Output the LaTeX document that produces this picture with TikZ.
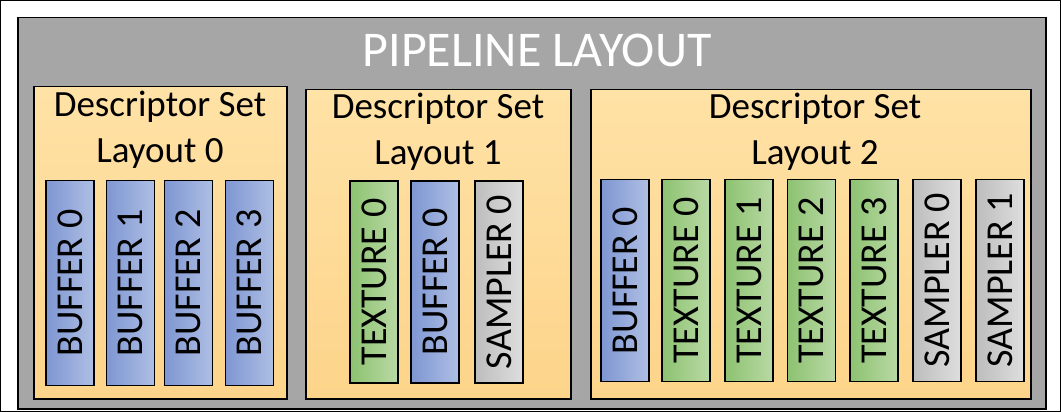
\documentclass[tikz,border=0pt]{standalone}
\usepackage{fontspec}
\setmainfont{Carlito}
\begin{document}
\begin{tikzpicture}[x=1pt,y=-1pt,
 set/.style={draw=black,line width=1.5pt,top color=orangeT,bottom color=orangeB},
 item/.style={draw=black,line width=1.2pt,rotate=90,anchor=center,inner sep=0pt,font=\fontsize{38}{38}\selectfont},
 buf/.style={item,left color=blueR,right color=blueL},
 tex/.style={item,left color=greenR,right color=greenL},
 smp/.style={item,left color=grayR,right color=grayL},
 head/.style={font=\fontsize{37}{46}\selectfont,align=center}]
\definecolor{orangeT}{HTML}{FFE2A6}
\definecolor{orangeB}{HTML}{FDD48A}
\definecolor{blueL}{HTML}{AFBFE4}
\definecolor{blueR}{HTML}{7E96D2}
\definecolor{greenL}{HTML}{B9D9A5}
\definecolor{greenR}{HTML}{8DC271}
\definecolor{grayL}{HTML}{DEDEDE}
\definecolor{grayR}{HTML}{BDBDBD}
\path[use as bounding box,fill=white,draw=black,line width=1pt] (0.5,0.5) rectangle (1060.5,411.5);
\node[draw=black,line width=1.5pt,fill=black!35,minimum width=1028pt,minimum height=391pt,anchor=north west,inner sep=0pt] (pl) at (17,17) {};
\node[font=\fontsize{50}{50}\selectfont,text=white] (title) at (537,50) {PIPELINE LAYOUT};
% sets
\node[set,anchor=north west,minimum width=253pt,minimum height=312pt,inner sep=0pt] (s0) at (33,86) {};
\node[set,anchor=north west,minimum width=265pt,minimum height=309pt,inner sep=0pt] (s1) at (305,89) {};
\node[set,anchor=north west,minimum width=440pt,minimum height=309pt,inner sep=0pt] (s2) at (590,89) {};
\node[head] (h0) at (160,130) {Descriptor Set\\Layout 0};
\node[head] (h1) at (438,132) {Descriptor Set\\Layout 1};
\node[head] (h2) at (815,132) {Descriptor Set\\Layout 2};
\tikzset{item/.append style={minimum width=205pt,minimum height=48pt}}
\node[buf] (b00) at (70,283) {BUFFER 0};
\node[buf] (b01) at (130.5,283) {BUFFER 1};
\node[buf] (b02) at (188.5,283) {BUFFER 2};
\node[buf] (b03) at (249.5,283) {BUFFER 3};
\tikzset{item/.append style={minimum width=202pt}}
\node[tex] (t10) at (374,282) {TEXTURE 0};
\node[buf] (b10) at (435,282) {BUFFER 0};
\node[smp] (s10) at (499,282) {SAMPLER 0};
\node[buf] (b20) at (625,280.5) {BUFFER 0};
\node[tex] (t20) at (686,280.5) {TEXTURE 0};
\node[tex] (t21) at (749,280.5) {TEXTURE 1};
\node[tex] (t22) at (811.5,280.5) {TEXTURE 2};
\node[tex] (t23) at (874,280.5) {TEXTURE 3};
\node[smp] (s20) at (937,280.5) {SAMPLER 0};
\node[smp] (s21) at (1000,280.5) {SAMPLER 1};
\end{tikzpicture}
\end{document}
